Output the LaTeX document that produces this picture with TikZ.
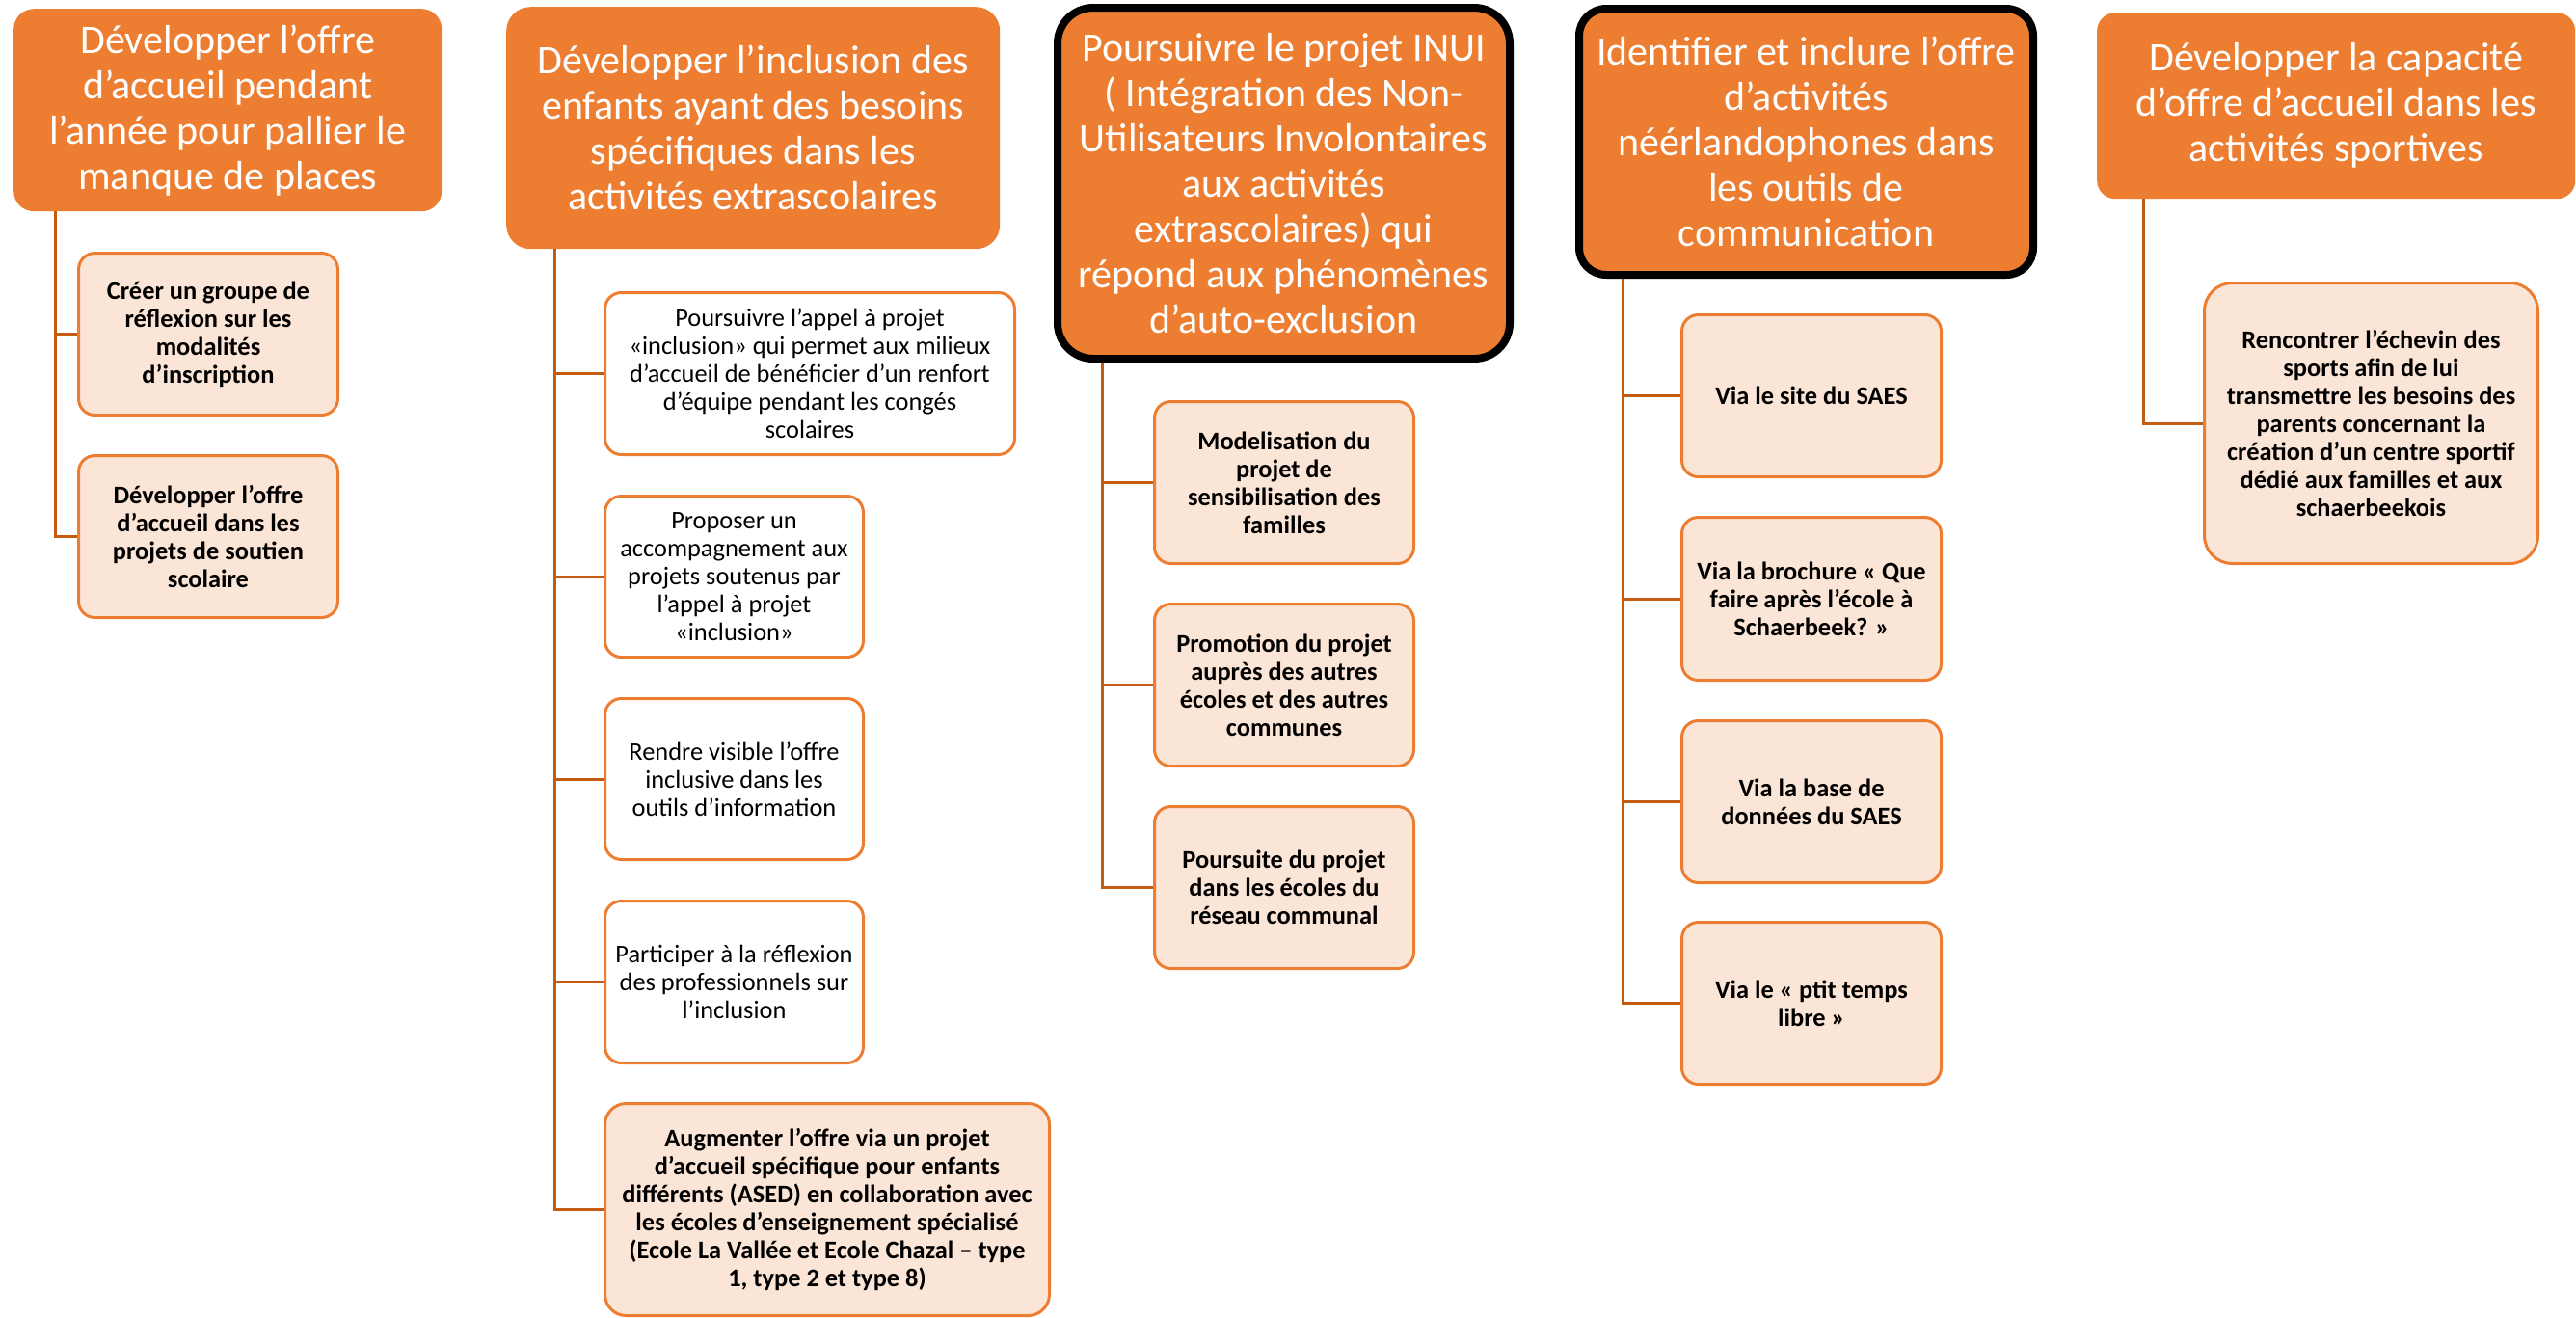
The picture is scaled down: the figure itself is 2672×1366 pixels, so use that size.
\documentclass[tikz,border=0pt]{standalone}
\usepackage{fontspec}
\setmainfont{Carlito}
\definecolor{hdrorange}{HTML}{ED7D31}
\definecolor{peach}{HTML}{FBE5D6}
\definecolor{connbrown}{HTML}{C55A11}
\tikzset{
  hdr/.style={draw=none, fill=hdrorange, text=white, align=center, inner sep=0pt,
    anchor=north west, font=\fontsize{42}{47}\selectfont},
  hdrblack/.style={hdr, draw=black, line width=8pt},
  kidbold/.style={draw=hdrorange, fill=peach, line width=3pt, align=center, inner sep=0pt,
    anchor=north west, rounded corners=17pt, font=\bfseries\fontsize{26.4}{29}\selectfont},
  kidplain/.style={draw=hdrorange, fill=white, line width=3pt, align=center, inner sep=0pt,
    anchor=north west, rounded corners=17pt, font=\fontsize{26.4}{29}\selectfont},
  conn/.style={draw=connbrown, line width=3pt},
  box/.style args={#1/#2}{minimum width=#1pt, minimum height=#2pt}
}
\begin{document}
\begin{tikzpicture}[x=1pt,y=-1pt]
\useasboundingbox (0,0) rectangle (2672,1366);
% Column 1
\node[hdr, box=444/210, rounded corners=21pt] (h1) at (14,9)
  {Développer l’offre\\d’accueil pendant\\l’année pour pallier le\\manque de places};
\node[kidbold, box=269/168] (c11) at (80,261)
  {Créer un groupe de\\réflexion sur les\\modalités\\d’inscription};
\node[kidbold, box=269/168] (c12) at (80,471)
  {Développer l’offre\\d’accueil dans les\\projets de soutien\\scolaire};
% Column 2
\node[hdr, box=512/251, rounded corners=25pt] (h2) at (525,7)
  {Développer l’inclusion des\\enfants ayant des besoins\\spécifiques dans les\\activités extrascolaires};
\node[kidplain, box=425/168] (c21) at (626,302)
  {Poursuivre l’appel à projet\\«inclusion» qui permet aux milieux\\d’accueil de bénéficier d’un renfort\\d’équipe pendant les congés\\scolaires};
\node[kidplain, box=268/167] (c22) at (626,513)
  {Proposer un\\accompagnement aux\\projets soutenus par\\l’appel à projet\\«inclusion»};
\node[kidplain, box=268/167] (c23) at (626,723)
  {Rendre visible l’offre\\inclusive dans les\\outils d’information};
\node[kidplain, box=268/168] (c24) at (626,933)
  {Participer à la réflexion\\des professionnels sur\\l’inclusion};
\node[kidbold, box=461/220, rounded corners=22pt] (c25) at (626,1143)
  {Augmenter l’offre via un projet\\d’accueil spécifique pour enfants\\différents (ASED) en collaboration avec\\les écoles d’enseignement spécialisé\\(Ecole La Vallée et Ecole Chazal – type\\1, type 2 et type 8)};
% Column 3
\node[hdrblack, box=469/364, rounded corners=37pt] (h3) at (1093,4)
  {Poursuivre le projet INUI\\( Intégration des Non-\\Utilisateurs Involontaires\\aux activités\\extrascolaires) qui\\répond aux phénomènes\\d’auto-exclusion};
\node[kidbold, box=269/168] (c31) at (1196,415)
  {Modelisation du\\projet de\\sensibilisation des\\familles};
\node[kidbold, box=269/168] (c32) at (1196,625)
  {Promotion du projet\\auprès des autres\\écoles et des autres\\communes};
\node[kidbold, box=269/168] (c33) at (1196,835)
  {Poursuite du projet\\dans les écoles du\\réseau communal};
% Column 4
\node[hdrblack, box=471/276, rounded corners=28pt] (h4) at (1634,5)
  {Identifier et inclure l’offre\\d’activités\\néérlandophones dans\\les outils de\\communication};
\node[kidbold, box=269/168] (c41) at (1743,325)
  {Via le site du SAES};
\node[kidbold, box=269/169] (c42) at (1743,535)
  {Via la brochure « Que\\faire après l’école à\\Schaerbeek? »};
\node[kidbold, box=269/168] (c43) at (1743,746)
  {Via la base de\\données du SAES};
\node[kidbold, box=269/168] (c44) at (1743,955)
  {Via le « ptit temps\\libre »};
% Column 5
\node[hdr, box=496/193, rounded corners=19pt] (h5) at (2175,13)
  {Développer la capacité\\d’offre d’accueil dans les\\activités sportives};
\node[kidbold, box=346/291, rounded corners=29pt] (c51) at (2285,292)
  {Rencontrer l’échevin des\\sports afin de lui\\transmettre les besoins des\\parents concernant la\\création d’un centre sportif\\dédié aux familles et aux\\schaerbeekois};
% Connectors
\begin{scope}[on background layer/.try]
\foreach \k in {c11,c12} \draw[conn] ([xshift=43pt]h1.south west) |- (\k.west);
\foreach \k in {c21,c22,c23,c24,c25} \draw[conn] ([xshift=50pt]h2.south west) |- (\k.west);
\foreach \k in {c31,c32,c33} \draw[conn] ([xshift=50pt]h3.south west) |- (\k.west);
\foreach \k in {c41,c42,c43,c44} \draw[conn] ([xshift=49pt]h4.south west) |- (\k.west);
\draw[conn] ([xshift=48pt]h5.south west) |- (c51.west);
\end{scope}
\end{tikzpicture}
\end{document}
